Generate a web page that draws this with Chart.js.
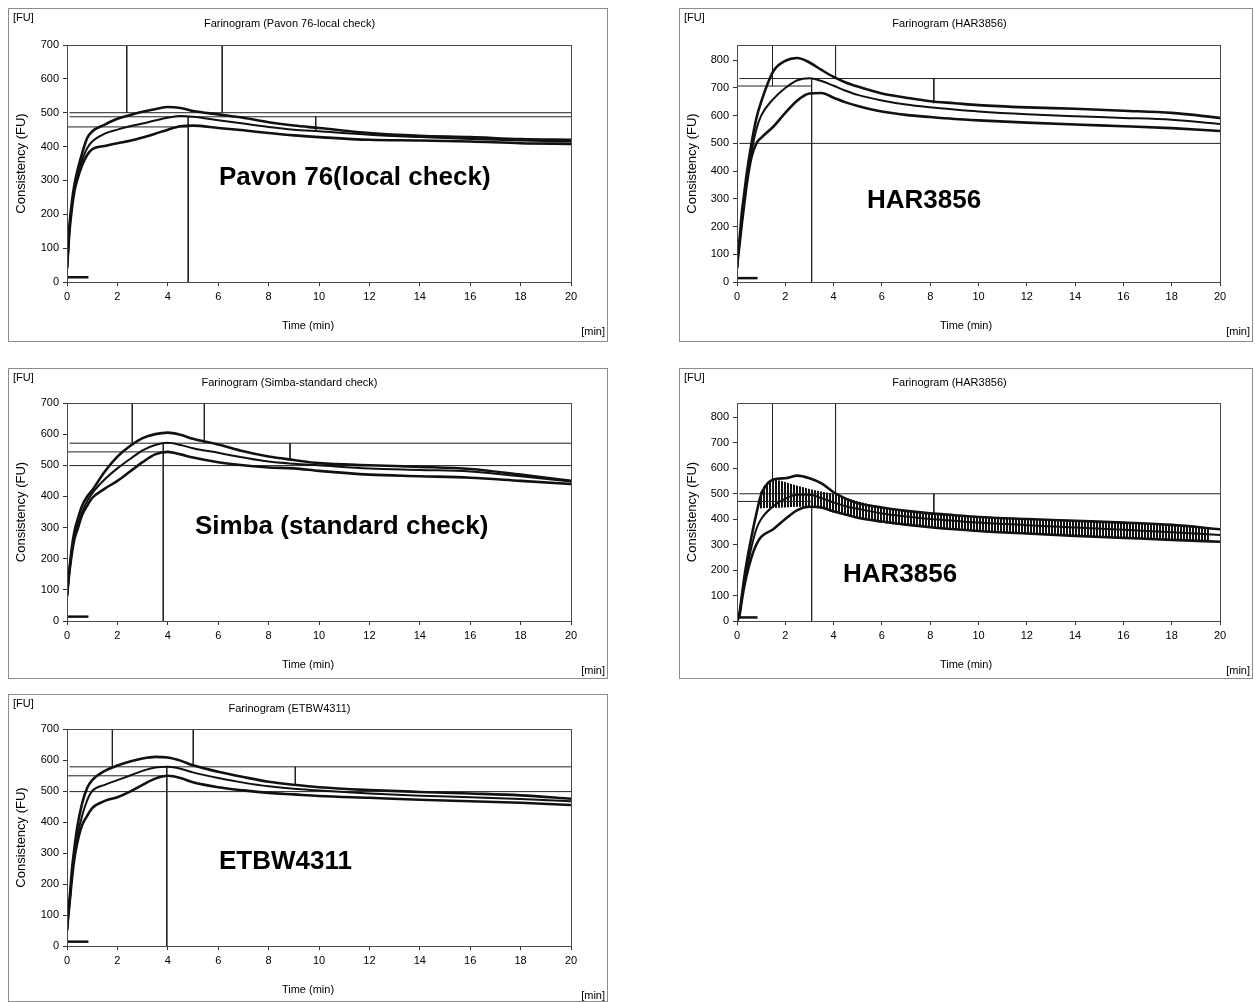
<!DOCTYPE html>
<html>
<head>
<meta charset="utf-8">
<script src="https://cdn.jsdelivr.net/npm/chart.js@4.4.1/dist/chart.umd.min.js"></script>
<style>
html, body { margin: 0; padding: 0; background: #fff; overflow: hidden; width: 1255px; height: 1002px; }
canvas { position: absolute; display: block; }
</style>
</head>
<body>
<canvas id="c1"></canvas>
<canvas id="c2"></canvas>
<canvas id="c3"></canvas>
<canvas id="c4"></canvas>
<canvas id="c5"></canvas>
<script>
// sample times (min), shared by every curve
const TIME = [0, 0.05, 0.1, 0.2, 0.3, 0.4, 0.6, 0.8, 1, 1.5, 2, 2.5, 3, 3.5, 4, 4.5, 5, 6, 7, 8, 9, 10, 12, 14, 16, 18, 20];

// Pavon 76 (local check)
const PAVON_TOP = [40, 110, 170, 240, 290, 325, 380, 425, 445, 465, 482, 493, 503, 510, 517, 514, 505, 495, 485, 472, 462, 455, 440, 432, 428, 422, 420];
const PAVON_MID = [40, 100, 160, 230, 280, 315, 360, 395, 415, 438, 450, 460, 468, 477, 485, 490, 488, 478, 468, 458, 450, 445, 435, 428, 422, 418, 415];
const PAVON_LOW = [40, 95, 150, 220, 270, 300, 345, 375, 392, 402, 410, 417, 427, 438, 450, 460, 462, 455, 448, 440, 433, 428, 420, 418, 415, 410, 408];

// HAR3856 (first run)
const HAR_A_TOP = [50, 110, 150, 250, 320, 390, 500, 590, 650, 760, 798, 808, 792, 765, 740, 720, 705, 680, 665, 652, 645, 638, 630, 625, 618, 610, 592];
const HAR_A_MID = [50, 100, 140, 220, 300, 370, 470, 550, 600, 660, 700, 728, 735, 725, 708, 690, 675, 655, 640, 630, 622, 615, 605, 598, 592, 585, 570];
const HAR_A_LOW = [50, 95, 130, 210, 280, 350, 450, 500, 520, 560, 610, 655, 680, 682, 665, 648, 635, 615, 603, 595, 588, 583, 575, 568, 562, 555, 545];

// Simba (standard check)
const SIMBA_TOP = [80, 130, 170, 240, 290, 320, 370, 400, 420, 480, 528, 562, 587, 600, 605, 598, 585, 567, 545, 528, 517, 507, 500, 495, 488, 470, 450];
const SIMBA_MID = [80, 125, 165, 230, 275, 300, 350, 385, 410, 455, 490, 520, 548, 565, 572, 565, 555, 540, 525, 512, 505, 500, 490, 485, 480, 465, 448];
const SIMBA_LOW = [80, 120, 160, 220, 265, 290, 340, 370, 395, 425, 450, 480, 510, 535, 543, 535, 525, 510, 500, 493, 490, 482, 470, 465, 460, 450, 440];

// HAR3856 (second run)
const HAR_B_TOP = [0, 15, 30, 100, 170, 230, 330, 420, 495, 555, 560, 570, 560, 540, 505, 480, 462, 445, 432, 422, 415, 408, 400, 393, 386, 377, 360];
const HAR_B_MID = [0, 10, 25, 90, 150, 200, 290, 360, 400, 450, 480, 495, 495, 482, 465, 450, 440, 422, 410, 400, 393, 386, 376, 367, 358, 348, 337];
const HAR_B_LOW = [0, 10, 20, 80, 135, 180, 250, 300, 330, 360, 400, 435, 448, 445, 430, 418, 405, 390, 378, 368, 360, 353, 343, 334, 326, 318, 311];
// hatched oscillation band of the second HAR3856 run
const HAR_B_BAND_TIME = [0.9, 1.2, 1.5, 2, 2.5, 3, 3.5, 4, 5, 6, 8, 10, 12, 14, 16, 18, 19.6];
const HAR_B_BAND_HI = [495, 540, 555, 545, 530, 518, 508, 498, 470, 448, 425, 410, 402, 396, 388, 378, 367];
const HAR_B_BAND_LO = [440, 443, 443, 445, 448, 445, 440, 425, 405, 385, 365, 352, 343, 332, 325, 318, 311];

// ETBW4311
const ETBW_TOP = [50, 110, 150, 250, 320, 380, 460, 510, 535, 565, 582, 595, 605, 610, 608, 598, 583, 562, 545, 530, 520, 512, 503, 497, 492, 486, 475];
const ETBW_MID = [50, 100, 140, 230, 300, 350, 420, 470, 500, 520, 535, 550, 565, 576, 578, 572, 560, 542, 527, 515, 507, 502, 492, 485, 480, 474, 467];
const ETBW_LOW = [50, 95, 135, 220, 285, 330, 390, 420, 445, 468, 480, 498, 520, 540, 549, 542, 528, 512, 502, 494, 489, 484, 478, 472, 467, 462, 455];

// evaluation lines [t1, FU1, t2, FU2]
const PAVON_LINES = [[0.1, 500, 20, 500], [0.1, 488, 20, 488], [0, 458, 4.81, 458],
    [2.37, 700, 2.37, 500], [6.16, 700, 6.16, 500], [4.81, 488, 4.81, 0], [9.87, 488, 9.87, 448]];
const HAR_A_LINES = [[0.1, 734, 20, 734], [0, 707, 3.09, 707], [0.1, 500, 20, 500],
    [1.47, 855, 1.47, 707], [4.08, 855, 4.08, 734], [3.09, 734, 3.09, 0], [8.15, 734, 8.15, 645]];
const SIMBA_LINES = [[0.1, 571, 20, 571], [0, 543, 3.82, 543], [0.1, 499, 20, 499],
    [2.59, 700, 2.59, 571], [5.45, 700, 5.45, 571], [3.82, 571, 3.82, 0], [8.85, 571, 8.85, 518]];
const HAR_B_LINES = [[0.1, 499, 20, 499], [0, 469, 3.09, 469],
    [1.47, 855, 1.47, 469], [4.08, 855, 4.08, 499], [3.09, 499, 3.09, 0], [8.15, 499, 8.15, 417]];
const ETBW_LINES = [[0.1, 578, 20, 578], [0, 549, 3.96, 549], [0.1, 498, 20, 498],
    [1.80, 700, 1.80, 578], [5.01, 700, 5.01, 578], [3.96, 578, 3.96, 0], [9.06, 578, 9.06, 519]];

// short zero mark at the start of each run
const START_MARK_TIME = [0, 0.85];
const START_MARK_FU = [14, 14];

const FONT = '"Liberation Sans", Arial, sans-serif';
Chart.defaults.font.family = FONT;
Chart.defaults.color = '#000';

const PANELS = [
    { id: 'c1', left: 8, top: 8, w: 600, h: 334, plotLeft: 59, plotTop: 37, plotRight: 563, plotBottom: 274, titleY: 16,
      name: 'Pavon 76-local check', label: 'Pavon 76(local check)', labelAt: [6.03, 307], yMax: 700,
      curves: [PAVON_TOP, PAVON_MID, PAVON_LOW], lines: PAVON_LINES },
    { id: 'c2', left: 679, top: 8, w: 574, h: 334, plotLeft: 58, plotTop: 37, plotRight: 541, plotBottom: 274, titleY: 16,
      name: 'HAR3856', label: 'HAR3856', labelAt: [5.38, 292], yMax: 855,
      curves: [HAR_A_TOP, HAR_A_MID, HAR_A_LOW], lines: HAR_A_LINES },
    { id: 'c3', left: 8, top: 368, w: 600, h: 311, plotLeft: 59, plotTop: 35, plotRight: 563, plotBottom: 253, titleY: 15,
      name: 'Simba-standard check', label: 'Simba (standard check)', labelAt: [5.08, 302], yMax: 700,
      curves: [SIMBA_TOP, SIMBA_MID, SIMBA_LOW], lines: SIMBA_LINES },
    { id: 'c4', left: 679, top: 368, w: 574, h: 311, plotLeft: 58, plotTop: 35, plotRight: 541, plotBottom: 253, titleY: 15,
      name: 'HAR3856', label: 'HAR3856', labelAt: [4.39, 180], yMax: 855,
      curves: [HAR_B_TOP, HAR_B_MID, HAR_B_LOW], lines: HAR_B_LINES,
      band: [HAR_B_BAND_TIME, HAR_B_BAND_HI, HAR_B_BAND_LO] },
    { id: 'c5', left: 8, top: 694, w: 600, h: 308, plotLeft: 59, plotTop: 35, plotRight: 563, plotBottom: 252, titleY: 15,
      name: 'ETBW4311', label: 'ETBW4311', labelAt: [6.03, 271], yMax: 700,
      curves: [ETBW_TOP, ETBW_MID, ETBW_LOW], lines: ETBW_LINES },
];

function stripePattern() {
    const c = document.createElement('canvas');
    c.width = 3; c.height = 4;
    const g = c.getContext('2d');
    g.fillStyle = '#111';
    g.fillRect(0, 0, 2, 4);
    return g.createPattern(c, 'repeat');
}

const panelDecor = {
    id: 'panelDecor',
    beforeDraw(chart) {
        const { ctx, width, height } = chart;
        ctx.save();
        ctx.fillStyle = '#fff';
        ctx.fillRect(0, 0, width, height);
        ctx.restore();
    },
    afterDraw(chart, args, opts) {
        const { ctx, chartArea: a, width, height } = chart;
        ctx.save();
        ctx.lineWidth = 1;
        ctx.strokeStyle = '#4a4a4a';
        ctx.strokeRect(Math.round(a.left) + 0.5, Math.round(a.top) + 0.5,
            Math.round(a.right - a.left), Math.round(a.bottom - a.top));
        ctx.strokeStyle = '#8c8c8c';
        ctx.strokeRect(0.5, 0.5, width - 1, height - 1);

        ctx.fillStyle = '#000';
        ctx.textBaseline = 'middle';
        ctx.font = '11px ' + FONT;
        ctx.textAlign = 'left';
        ctx.fillText('[FU]', 5, 10);
        ctx.textAlign = 'center';
        ctx.fillText('Time (min)', width / 2, a.bottom + 44);
        ctx.textAlign = 'right';
        ctx.fillText('[min]', width - 3, a.bottom + 50);

        ctx.font = 'bold 26px ' + FONT;
        ctx.textAlign = 'left';
        const x = chart.scales.x.getPixelForValue(opts.labelAt[0]);
        const y = chart.scales.y.getPixelForValue(opts.labelAt[1]);
        ctx.fillText(opts.label, x, y);
        ctx.restore();
    }
};

function toPoints(times, values) {
    return times.map((t, i) => ({ x: t, y: values[i] }));
}

function buildDatasets(p) {
    const ds = [];
    p.curves.forEach((arr, i) => {
        ds.push({
            data: toPoints(TIME, arr),
            borderColor: '#111',
            borderWidth: i === 1 ? 2 : 2.6,
            cubicInterpolationMode: 'monotone',
            pointRadius: 0,
            fill: false,
        });
    });
    ds.push({
        data: toPoints(START_MARK_TIME, START_MARK_FU),
        borderColor: '#111', borderWidth: 2.5, pointRadius: 0, fill: false,
    });
    p.lines.forEach(l => {
        ds.push({
            data: [{ x: l[0], y: l[1] }, { x: l[2], y: l[3] }],
            borderColor: '#222', borderWidth: 1, pointRadius: 0, fill: false,
        });
    });
    if (p.band) {
        const [bt, hi, lo] = p.band;
        ds.push({
            data: toPoints(bt, hi), borderWidth: 0, borderColor: 'rgba(0,0,0,0)',
            pointRadius: 0, cubicInterpolationMode: 'monotone',
            fill: '+1', backgroundColor: stripePattern(),
        });
        ds.push({
            data: toPoints(bt, lo), borderWidth: 0, borderColor: 'rgba(0,0,0,0)',
            pointRadius: 0, cubicInterpolationMode: 'monotone', fill: false,
        });
    }
    return ds;
}

PANELS.forEach(p => {
    const el = document.getElementById(p.id);
    el.width = p.w; el.height = p.h;
    el.style.left = p.left + 'px'; el.style.top = p.top + 'px';
    el.style.width = p.w + 'px'; el.style.height = p.h + 'px';

    const axisGrid = { drawOnChartArea: false, drawTicks: true, tickLength: 4, color: '#333' };
    new Chart(el, {
        type: 'line',
        data: { datasets: buildDatasets(p) },
        options: {
            responsive: false,
            devicePixelRatio: 1,
            animation: false,
            layout: { padding: { left: 0, top: 0, right: p.w - p.plotRight, bottom: 0 } },
            plugins: {
                legend: { display: false },
                tooltip: { enabled: false },
                title: {
                    display: true,
                    text: 'Farinogram (' + p.name + ')',
                    color: '#000',
                    font: { size: 11, weight: 'normal' },
                    padding: { top: p.titleY - 6.6, bottom: p.plotTop - (p.titleY - 6.6) - 13.2 },
                },
                panelDecor: { label: p.label, labelAt: p.labelAt },
            },
            scales: {
                x: {
                    type: 'linear', min: 0, max: 20,
                    afterFit: s => { s.height = p.h - p.plotBottom; },
                    grid: axisGrid,
                    border: { display: false },
                    ticks: { stepSize: 2, padding: 4, maxRotation: 0, autoSkip: false, color: '#000', font: { size: 11 } },
                },
                y: {
                    min: 0, max: p.yMax,
                    afterFit: s => { s.width = p.plotLeft; },
                    grid: axisGrid,
                    border: { display: false },
                    ticks: { stepSize: 100, includeBounds: false, padding: 4, color: '#000', font: { size: 11 } },
                    title: { display: true, text: 'Consistency (FU)', color: '#000', font: { size: 13 }, padding: { top: 6, bottom: 0 } },
                },
            },
        },
        plugins: [panelDecor],
    });
});
</script>
</body>
</html>
